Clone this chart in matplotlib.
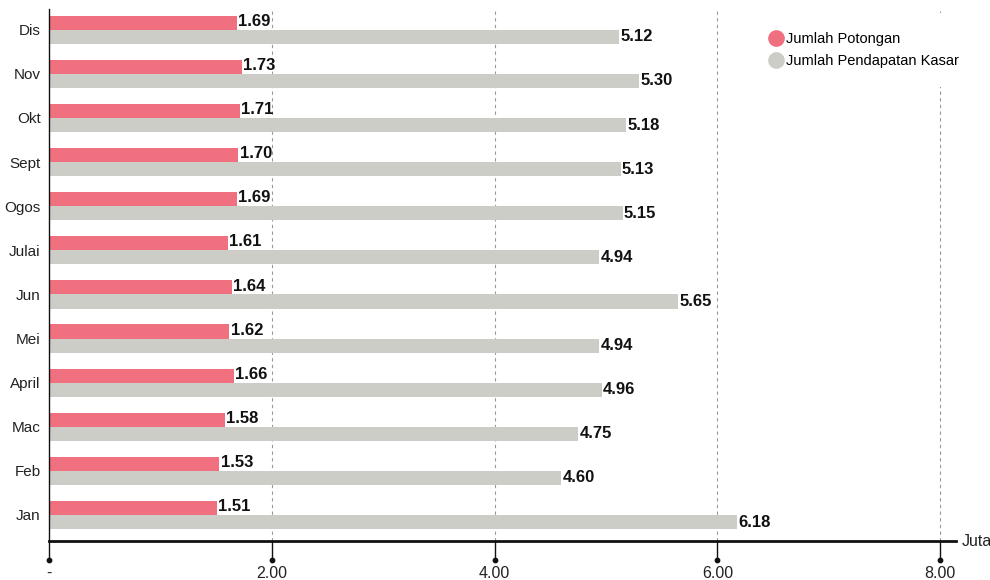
import matplotlib.pyplot as plt
import matplotlib.transforms as mtransforms
from matplotlib.lines import Line2D

plt.rcParams['font.family'] = ['Liberation Sans', 'DejaVu Sans']

bulan = ["Jan", "Feb", "Mac", "April", "Mei", "Jun", "Julai", "Ogos", "Sept", "Okt", "Nov", "Dis"]
potongan = [1.51, 1.53, 1.58, 1.66, 1.62, 1.64, 1.61, 1.69, 1.70, 1.71, 1.73, 1.69]
kasar = [6.18, 4.60, 4.75, 4.96, 4.94, 5.65, 4.94, 5.15, 5.13, 5.18, 5.30, 5.12]
xticks = [0, 2, 4, 6, 8]
xticklabels = ["-", "2.00", "4.00", "6.00", "8.00"]

PINK = "#F07080"
GREY = "#CDCDC8"
h = 0.32

fig = plt.figure(figsize=(9.9, 5.8), dpi=100)
ax = fig.add_axes([0.0495, 0.0672, 0.916, 0.918])

y = list(range(len(bulan)))
ax.barh([i + h / 2 for i in y], potongan, height=h, color=PINK, zorder=2)
ax.barh([i - h / 2 for i in y], kasar, height=h, color=GREY, zorder=2)

for i, (p, k) in enumerate(zip(potongan, kasar)):
    ax.text(p + 0.01, i + h / 2 + 0.03, f"{p:.2f}", va="center", ha="left",
            fontsize=12, fontweight="bold", color="#111111", zorder=3)
    ax.text(k + 0.01, i - h / 2, f"{k:.2f}", va="center", ha="left",
            fontsize=12, fontweight="bold", color="#111111", zorder=3)

for v in xticks[1:]:
    ax.axvline(v, color="#999999", lw=0.8, ls=(0, (3, 3)), zorder=1)

ax.set_xlim(0, 8.14)
ax.set_ylim(-0.59, 11.48)
ax.set_yticks(y)
ax.set_yticklabels(bulan, fontsize=11, color="#222222")
ax.tick_params(axis="y", length=0, pad=6)
ax.set_xticks(xticks)
ax.set_xticklabels(xticklabels, fontsize=11.5, color="#222222")
ax.tick_params(axis="x", length=14, width=1, color="#111111", pad=4)

for s in ["top", "right"]:
    ax.spines[s].set_visible(False)
ax.spines["left"].set_linewidth(1)
ax.spines["bottom"].set_linewidth(2)
ax.spines["left"].set_color("#111111")
ax.spines["bottom"].set_color("#111111")

# dots at the ends of the x ticks
dot_tr = mtransforms.offset_copy(ax.get_xaxis_transform(), fig=fig, y=-19, units="dots")
ax.scatter(xticks, [0] * len(xticks), s=10, color="#111111", transform=dot_tr,
           clip_on=False, zorder=5)

fig.text(962 / 990, 1 - 541 / 580, "Juta", fontsize=11.5, va="center", ha="left",
         color="#222222")

handles = [
    Line2D([], [], marker="o", ls="", markersize=11, color=PINK, label="Jumlah Potongan"),
    Line2D([], [], marker="o", ls="", markersize=11, color=GREY, label="Jumlah Pendapatan Kasar"),
]
# white legend box also hides the top of the 8.00 gridline
leg = fig.legend(handles=handles, loc="upper left",
                 bbox_to_anchor=(741 / 990, 1 - 6 / 580),
                 frameon=True, facecolor="white", edgecolor="none", framealpha=1,
                 fontsize=10.5, handletextpad=0.1, labelspacing=0.55, borderpad=1.3,
                 handlelength=1.2)
leg.set_zorder(4)

fig.savefig("out.png", dpi=100)
